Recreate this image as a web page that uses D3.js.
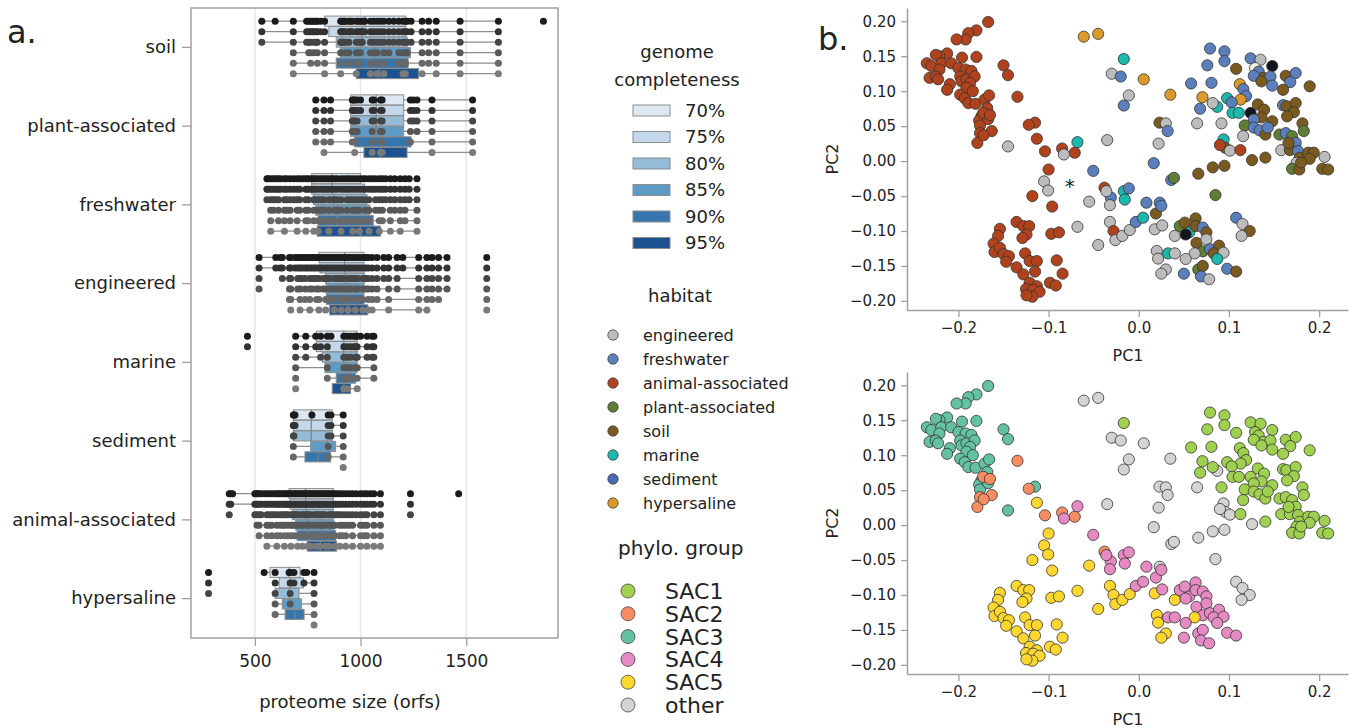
<!DOCTYPE html>
<html>
<head>
<meta charset="utf-8">
<script src="https://cdn.jsdelivr.net/npm/d3@7"></script>
<style>
  body { margin: 0; background: #fff; }
  text { font-family: "DejaVu Sans", sans-serif; fill: #222; }
</style>
</head>
<body>
<svg id="chart" width="1360" height="728"></svg>
<script>
// ---------- panel a data ----------
const habitats = ["soil", "plant-associated", "freshwater", "engineered", "marine", "sediment", "animal-associated", "hypersaline"];
const completeness = ["70%", "75%", "80%", "85%", "90%", "95%"];
const sizeTicks = [500, 1000, 1500];

// box stats per completeness row: [q1, median, q3, whiskerLow, whiskerHigh]
const soilBoxes = [[830,1020,1214,533,1652],[850,1008,1214,533,1652],[885,1008,1220,533,1652],[905,1067,1236,682,1652],[885,1036,1225,682,1652],[980,1091,1275,682,1652]];
const plantBoxes = [[953,1074,1204,788,1530],[953,1074,1204,788,1530],[953,1074,1204,788,1530],[953,1074,1204,788,1530],[972,1091,1239,788,1530],[1016,1094,1220,830,1530]];
const freshwaterBoxes = [[769,866,1000,557,1267],[769,866,1019,557,1267],[777,874,1031,557,1267],[788,890,1044,575,1267],[799,890,1060,575,1267],[795,1000,1094,575,1267]];
const engineeredBoxes = [[803,924,1016,520,1409],[808,924,1016,520,1409],[835,929,1019,623,1409],[838,929,1016,670,1409],[838,929,1016,670,1377],[854,937,1034,714,1314]];
const marineBoxes = [[791,921,984,693,1071],[791,921,984,693,1071],[819,921,984,693,1071],[832,929,984,693,1071],[885,945,976,843,1061],[866,921,953,866,984]];
const sedimentBoxes = [[682,767,866,682,918],[682,767,866,682,918],[682,767,866,682,918],[764,843,882,682,918],[737,800,858,682,918],null];
const animalBoxes = [[662,740,871,379,1094],[667,740,871,379,1094],[678,745,871,500,1094],[693,750,874,510,1094],[700,755,882,520,1094],[748,811,887,557,1094]];
const hypersalineBoxes = [[572,662,714,544,780],[615,670,730,596,780],[596,662,709,596,780],[630,667,720,596,780],[643,690,733,596,780],null];

// genomes: [proteome size, number of completeness rows it passes]
const soilGenomes = [[533,3],[596,1],[682,6],[745,3],[755,4],[764,5],[772,2],[780,4],[790,3],[796,5],[811,2],[830,6],[906,6],[912,3],[918,3],[925,1],[929,4],[945,5],[952,2],[961,2],[980,6],[990,5],[1000,4],[1008,3],[1020,2],[1047,6],[1062,4],[1078,6],[1094,3],[1110,6],[1134,4],[1157,3],[1181,5],[1201,6],[1212,6],[1220,4],[1239,3],[1291,6],[1322,5],[1358,6],[1471,6],[1652,6],[1865,1]];
const plantGenomes = [[788,5],[827,6],[858,5],[961,5],[968,3],[972,6],[984,4],[1000,2],[1055,6],[1063,3],[1094,6],[1102,6],[1236,5],[1250,3],[1267,4],[1338,6],[1530,6]];
const freshwaterGenomes = [[557,3],[563,2],[575,6],[588,4],[600,3],[612,5],[622,2],[640,6],[651,4],[667,5],[684,3],[700,6],[712,4],[728,1],[741,6],[752,5],[766,2],[779,6],[786,3],[800,6],[814,4],[826,5],[838,2],[850,6],[863,3],[877,5],[890,4],[908,6],[922,2],[936,5],[948,3],[963,6],[978,4],[994,6],[1009,3],[1022,5],[1040,6],[1056,2],[1071,4],[1089,6],[1103,5],[1118,3],[1141,6],[1162,4],[1188,6],[1210,5],[1230,3],[1267,6]];
const engineeredGenomes = [[520,4],[599,2],[620,2],[630,3],[664,5],[670,6],[690,2],[703,4],[714,6],[725,3],[738,5],[748,2],[760,6],[771,4],[782,3],[792,5],[803,6],[813,2],[824,4],[835,6],[845,3],[855,5],[866,2],[876,6],[887,4],[898,3],[909,6],[920,5],[931,2],[942,6],[952,4],[963,3],[975,6],[987,5],[999,2],[1011,6],[1024,4],[1036,6],[1055,6],[1078,5],[1110,3],[1133,6],[1173,4],[1200,2],[1275,6],[1314,6],[1338,5],[1369,5],[1409,4],[1597,6]];
const marineGenomes = [[465,2],[693,6],[741,3],[788,2],[811,3],[843,5],[860,1],[921,6],[937,6],[953,5],[970,2],[976,4],[984,6],[1000,1],[1031,3],[1055,3],[1063,5]];
const sedimentGenomes = [[682,5],[685,3],[690,2],[770,1],[847,5],[860,3],[918,6]];
const animalGenomes = [[379,3],[386,2],[395,1],[500,3],[507,2],[510,4],[520,5],[530,3],[545,2],[557,6],[568,4],[580,5],[592,3],[604,6],[612,2],[620,5],[631,4],[640,6],[648,3],[656,5],[664,2],[671,6],[679,4],[687,5],[694,3],[702,6],[710,4],[717,2],[725,6],[733,5],[741,3],[749,6],[757,4],[765,6],[773,2],[781,5],[790,6],[798,3],[806,6],[815,4],[824,5],[833,6],[842,2],[851,6],[860,4],[869,5],[879,6],[890,3],[902,6],[915,5],[930,6],[946,4],[962,6],[980,3],[1000,6],[1016,5],[1030,6],[1047,2],[1063,6],[1094,6],[1236,3],[1464,1]];
const hypersalineGenomes = [[281,3],[544,1],[596,5],[662,1],[667,4],[685,2],[732,2],[745,1],[780,6]];

// ---------- panel b data ----------
const habitatLegend = ["engineered", "freshwater", "animal-associated", "plant-associated", "soil", "marine", "sediment", "hypersaline"];
const habitatCodes = ["E", "F", "A", "P", "S", "M", "D", "H"];
const groupLegend = ["SAC1", "SAC2", "SAC3", "SAC4", "SAC5", "other"];
const pcTicksX = [-0.2, -0.1, 0.0, 0.1, 0.2];
const pcTicksY = [-0.20, -0.15, -0.10, -0.05, 0.00, 0.05, 0.10, 0.15, 0.20];
const starMark = [-0.0765, -0.031];

// [PC1, PC2, habitat code, phylo group (0 = other)]
const pcaPoints = [
  [-0.167,0.199,"A",3],[-0.180,0.187,"A",3],[-0.189,0.183,"A",3],[-0.192,0.174,"A",3],[-0.202,0.174,"A",3],[-0.196,0.148,"A",3],[-0.180,0.149,"A",3],
  [-0.2125,0.154,"A",3],[-0.221,0.150,"A",3],[-0.225,0.152,"A",3],[-0.235,0.140,"A",3],[-0.230,0.136,"A",3],[-0.219,0.140,"A",3],[-0.208,0.140,"A",3],
  [-0.221,0.131,"A",3],[-0.232,0.119,"A",3],[-0.225,0.121,"A",3],[-0.2225,0.117,"A",3],[-0.2095,0.110,"A",3],[-0.2125,0.102,"A",3],[-0.200,0.133,"A",3],
  [-0.192,0.131,"A",3],[-0.1855,0.129,"A",3],[-0.198,0.121,"A",3],[-0.1965,0.114,"A",3],[-0.191,0.117,"A",3],[-0.182,0.121,"A",3],[-0.187,0.112,"A",3],
  [-0.191,0.105,"A",3],[-0.184,0.100,"A",3],[-0.198,0.095,"A",3],[-0.193,0.090,"A",3],[-0.189,0.083,"A",3],[-0.181,0.082,"A",3],[-0.171,0.088,"A",3],
  [-0.166,0.094,"A",3],[-0.168,0.076,"A",3],[-0.1745,0.064,"A",3],[-0.177,0.058,"A",3],[-0.176,0.051,"A",3],[-0.167,0.060,"A",3],[-0.150,0.137,"A",3],
  [-0.145,0.123,"A",3],[-0.115,0.055,"A",3],[-0.145,0.021,"E",3],
  [-0.1725,0.069,"A",2],[-0.165,0.066,"A",2],[-0.176,0.040,"A",2],[-0.163,0.043,"A",2],[-0.179,0.026,"A",2],[-0.172,0.037,"A",2],[-0.1345,0.092,"A",2],
  [-0.122,0.052,"A",2],[-0.104,0.014,"A",2],[-0.085,0.018,"A",2],[-0.071,0.012,"A",2],[-0.038,-0.038,"A",2],
  [-0.068,0.027,"M",4],[-0.083,0.0095,"E",4],[-0.0505,-0.014,"F",4],
  [-0.061,0.178,"H",0],[-0.045,0.182,"H",0],
  [-0.113,0.032,"A",5],[-0.100,-0.012,"A",5],[-0.105,-0.029,"E",5],[-0.1005,-0.042,"E",5],[-0.118,-0.050,"A",5],[-0.096,-0.065,"A",5],[-0.055,-0.058,"E",5],
  [-0.068,-0.094,"E",5],[-0.045,-0.120,"E",5],
  [-0.1355,-0.087,"A",5],[-0.128,-0.093,"A",5],[-0.1215,-0.093,"A",5],[-0.1245,-0.105,"A",5],[-0.129,-0.110,"A",5],[-0.154,-0.097,"A",5],[-0.156,-0.107,"A",5],
  [-0.161,-0.118,"A",5],[-0.160,-0.130,"A",5],[-0.154,-0.124,"A",5],[-0.150,-0.133,"A",5],[-0.144,-0.136,"A",5],[-0.147,-0.144,"A",5],[-0.126,-0.132,"A",5],
  [-0.121,-0.143,"A",5],[-0.113,-0.143,"A",5],[-0.1355,-0.152,"A",5],[-0.128,-0.162,"A",5],[-0.115,-0.158,"A",5],[-0.121,-0.174,"A",5],[-0.113,-0.179,"A",5],
  [-0.125,-0.183,"A",5],[-0.117,-0.184,"A",5],[-0.110,-0.187,"A",5],[-0.118,-0.194,"A",5],[-0.1245,-0.192,"A",5],[-0.097,-0.104,"A",5],[-0.0885,-0.102,"A",5],
  [-0.091,-0.142,"A",5],[-0.0845,-0.161,"A",5],[-0.0985,-0.174,"A",5],[-0.092,-0.178,"A",5],
  [-0.0166,0.146,"M",1],[-0.030,0.125,"E",0],[-0.020,0.121,"F",0],[0.0055,0.117,"H",0],[-0.011,0.094,"E",0],[-0.0166,0.0795,"F",0],[0.035,0.095,"H",0],
  [0.023,0.055,"S",0],[0.030,0.054,"E",0],[0.032,0.043,"F",0],[-0.035,0.030,"E",0],[0.022,0.025,"E",0],[0.0166,-0.003,"F",0],[0.036,-0.027,"F",0],
  [0.039,-0.024,"P",0],[0.066,-0.018,"S",0],[0.082,-0.009,"S",0],[0.095,-0.0067,"S",0],[0.085,-0.0486,"P",0],[0.0647,0.054,"E",0],[0.087,0.0776,"M",0],
  [0.094,0.031,"M",0],[0.096,0.019,"S",0],[0.101,0.015,"E",0],[0.090,0.023,"A",0],[0.1127,0.0157,"A",1],[0.1256,0.0014,"S",0],[0.1404,0.005,"S",1],
  [0.108,-0.081,"F",0],[0.115,-0.090,"E",0],[0.123,-0.100,"S",0],[0.114,-0.107,"E",0],[0.0233,-0.0595,"F",0],
  [-0.031,-0.052,"F",4],[-0.032,-0.063,"E",4],[-0.036,-0.043,"E",4],[-0.0166,-0.043,"M",4],[-0.011,-0.039,"F",4],[-0.0155,-0.055,"M",4],
  [-0.032,-0.087,"E",5],[-0.028,-0.100,"A",5],[-0.026,-0.113,"E",5],[-0.0182,-0.107,"E",5],[-0.010,-0.0986,"E",5],
  [-0.0033,-0.087,"F",4],[0.0048,-0.081,"M",4],[0.0085,-0.0595,"F",4],[0.019,-0.075,"S",4],[0.025,-0.064,"F",4],
  [0.0177,-0.0976,"E",5],[0.026,-0.092,"E",4],[0.020,-0.1286,"E",5],[0.0214,-0.1395,"E",5],[0.030,-0.155,"E",5],[0.025,-0.161,"E",5],[0.040,-0.107,"E",5],
  [0.0325,-0.132,"M",4],[0.040,-0.132,"E",4],[0.0455,-0.093,"P",4],[0.051,-0.088,"S",4],[0.056,-0.102,"M",4],[0.052,-0.105,"K",4],[0.063,-0.082,"S",4],
  [0.063,-0.093,"S",4],[0.071,-0.095,"F",4],[0.075,-0.102,"S",4],[0.064,-0.117,"S",4],[0.075,-0.112,"E",4],[0.071,-0.129,"P",4],[0.079,-0.126,"F",4],
  [0.089,-0.121,"S",4],[0.083,-0.132,"S",4],[0.094,-0.131,"E",4],[0.062,-0.132,"E",5],[0.052,-0.140,"E",4],[0.050,-0.161,"F",4],[0.066,-0.155,"P",4],
  [0.071,-0.150,"S",4],[0.069,-0.165,"F",4],[0.078,-0.169,"E",4],[0.098,-0.154,"F",4],[0.108,-0.158,"S",4],[0.087,-0.140,"M",4],
  [0.079,0.161,"F",1],[0.095,0.157,"F",1],[0.095,0.143,"F",1],[0.076,0.137,"F",1],[0.108,0.132,"S",1],[0.124,0.147,"F",1],[0.135,0.145,"E",1],
  [0.129,0.133,"W",1],[0.133,0.128,"F",1],[0.148,0.136,"K",1],[0.138,0.119,"S",1],[0.1275,0.122,"F",1],[0.146,0.121,"F",1],[0.136,0.114,"S",1],
  [0.148,0.108,"F",1],[0.163,0.122,"S",1],[0.174,0.126,"F",1],[0.168,0.113,"F",1],[0.160,0.102,"S",1],[0.1895,0.107,"S",1],[0.058,0.111,"F",1],
  [0.0706,0.0914,"H",1],[0.0806,0.112,"F",1],[0.112,0.110,"H",1],[0.116,0.103,"F",1],[0.119,0.093,"F",1],[0.113,0.088,"H",1],[0.098,0.090,"M",1],
  [0.103,0.084,"F",1],[0.082,0.083,"E",1],[0.068,0.075,"F",1],[0.104,0.069,"M",1],[0.111,0.069,"M",1],[0.124,0.069,"K",1],[0.132,0.081,"S",1],
  [0.139,0.0735,"S",1],[0.136,0.0625,"S",1],[0.148,0.057,"S",1],[0.1275,0.0595,"F",1],[0.1175,0.051,"P",1],[0.1275,0.048,"F",1],[0.134,0.044,"F",1],
  [0.1404,0.038,"S",1],[0.143,0.048,"F",1],[0.1157,0.0357,"E",1],[0.0917,0.054,"E",1],[0.160,0.080,"F",1],[0.1637,0.0786,"S",1],[0.174,0.083,"S",1],
  [0.172,0.070,"S",1],[0.1645,0.064,"S",1],[0.1815,0.054,"S",1],[0.183,0.043,"P",1],[0.156,0.038,"P",1],[0.163,0.040,"F",1],[0.170,0.0357,"P",1],
  [0.174,0.0262,"F",1],[0.158,0.0157,"E",1],[0.1675,0.0157,"S",1],[0.1766,0.0143,"F",1],[0.166,0.026,"S",1],[0.1785,0.0048,"S",1],[0.188,0.012,"S",1],
  [0.194,0.012,"S",1],[0.1895,0.0033,"S",1],[0.206,0.006,"E",1],[0.175,-0.0024,"E",1],[0.170,-0.011,"P",1],[0.178,-0.012,"S",1],[0.180,-0.002,"S",1],
  [0.2035,-0.011,"S",1],[0.210,-0.012,"S",1]
];

// ---------- styles ----------
const boxColors = ["#dce7f1", "#c3d8ea", "#94bcd9", "#5e9cc7", "#3776ad", "#1c528f"];
const rowPointColors = ["#1c1c1c", "#333333", "#454545", "#575757", "#686868", "#7a7a7a"];
const habitatColors = {E: "#bcbcbc", F: "#5b7fbd", A: "#b0431e", P: "#5f7d34", S: "#7b5a20", M: "#1bb8ab", D: "#4a6bb2", H: "#dc9a2a", K: "#14141f", W: "#f7efe4"};
const groupColors = ["#d3d3d3", "#9fd04f", "#f98d62", "#64c1a1", "#e58ac3", "#fdd630"];

const boxesByHabitat = [soilBoxes, plantBoxes, freshwaterBoxes, engineeredBoxes, marineBoxes, sedimentBoxes, animalBoxes, hypersalineBoxes];
const genomesByHabitat = [soilGenomes, plantGenomes, freshwaterGenomes, engineeredGenomes, marineGenomes, sedimentGenomes, animalGenomes, hypersalineGenomes];

const svg = d3.select("#chart");
svg.append("rect").attr("width", 1360).attr("height", 728).attr("fill", "#fff");

function drawBoxPanel(){
    const left = 191, right = 558, top = 8, bottom = 638;
    const x = d3.scaleLinear().domain([198, 1934]).range([left, right]);
    const y = d3.scaleBand().domain(habitats).range([top, bottom]);
    const bw = y.bandwidth();
    const hueW = bw * 0.8 / completeness.length;
    const boxH = hueW * 0.96;
    const g = svg.append("g");

    // grid
    g.selectAll(".grid").data(sizeTicks).enter().append("line")
        .attr("x1", d => x(d)).attr("x2", d => x(d))
        .attr("y1", top).attr("y2", bottom)
        .attr("stroke", "#e6e6e6").attr("stroke-width", 1.5);

    habitats.forEach((h, hi) => {
        const boxes = boxesByHabitat[hi];
        const genomes = genomesByHabitat[hi];
        completeness.forEach((c, k) => {
            const cy = y(h) + bw * 0.1 + (k + 0.5) * hueW;
            const s = boxes[k];
            const rg = g.append("g");
            if (s) {
                const [q1, med, q3, lo, hi2] = s;
                rg.append("line").attr("x1", x(lo)).attr("x2", x(q1)).attr("y1", cy).attr("y2", cy)
                    .attr("stroke", "#8c8c8c").attr("stroke-width", 1.3);
                rg.append("line").attr("x1", x(q3)).attr("x2", x(hi2)).attr("y1", cy).attr("y2", cy)
                    .attr("stroke", "#8c8c8c").attr("stroke-width", 1.3);
                rg.append("rect").attr("x", x(q1)).attr("y", cy - boxH / 2)
                    .attr("width", x(q3) - x(q1)).attr("height", boxH)
                    .attr("fill", boxColors[k]).attr("stroke", "#8c8c8c").attr("stroke-width", 1);
                rg.append("line").attr("x1", x(med)).attr("x2", x(med))
                    .attr("y1", cy - boxH / 2).attr("y2", cy + boxH / 2)
                    .attr("stroke", "#808080").attr("stroke-width", 1.2);
            }
            rg.selectAll("circle").data(genomes.filter(d => d[1] > k)).enter().append("circle")
                .attr("cx", d => x(d[0])).attr("cy", cy).attr("r", 3.5)
                .attr("fill", rowPointColors[k]);
        });
    });

    // frame
    g.append("rect").attr("x", left).attr("y", top).attr("width", right - left).attr("height", bottom - top)
        .attr("fill", "none").attr("stroke", "#a0a0a0").attr("stroke-width", 1.5);

    const yAxis = g.append("g").attr("transform", `translate(${left},0)`)
        .call(d3.axisLeft(y).tickSize(9).tickPadding(6).tickSizeOuter(0));
    yAxis.select(".domain").remove();
    yAxis.selectAll("line").attr("stroke", "#a0a0a0").attr("stroke-width", 1.3);
    yAxis.selectAll("text").attr("font-size", 18).attr("fill", "#222").attr("font-family", "DejaVu Sans");

    const xAxis = g.append("g").attr("transform", `translate(0,${bottom})`)
        .call(d3.axisBottom(x).tickValues(sizeTicks).tickFormat(d3.format("d")).tickSize(8).tickPadding(9).tickSizeOuter(0));
    xAxis.select(".domain").remove();
    xAxis.selectAll("line").attr("stroke", "#a0a0a0").attr("stroke-width", 1.3);
    xAxis.selectAll("text").attr("font-size", 17).attr("fill", "#222").attr("font-family", "DejaVu Sans");

    g.append("text").attr("x", 350).attr("y", 708).attr("text-anchor", "middle")
        .attr("font-size", 18).text("proteome size (orfs)");
    svg.append("text").attr("x", 7).attr("y", 43).attr("font-size", 32).text("a.");
}

function drawScatter(offsetY, colorOf, withStar){
    const left = 907, right = 1348, top = 8 + offsetY, bottom = 310 + offsetY;
    const x = d3.scaleLinear().domain([-0.257, 0.232]).range([left, right]);
    const y = d3.scaleLinear().domain([-0.213, 0.219]).range([bottom, top]);
    const g = svg.append("g");

    const yAxis = g.append("g").attr("transform", `translate(${left},0)`)
        .call(d3.axisLeft(y).tickValues(pcTicksY).tickFormat(d3.format(".2f")).tickSize(6).tickPadding(5).tickSizeOuter(0));
    const xAxis = g.append("g").attr("transform", `translate(0,${bottom})`)
        .call(d3.axisBottom(x).tickValues(pcTicksX).tickFormat(d3.format(".1f")).tickSize(7).tickPadding(5).tickSizeOuter(0));
    [yAxis, xAxis].forEach(a => {
        a.select(".domain").attr("stroke", "#a0a0a0").attr("stroke-width", 1.5);
        a.selectAll(".tick line").attr("stroke", "#a0a0a0").attr("stroke-width", 1.3);
        a.selectAll("text").attr("font-size", 15).attr("fill", "#222").attr("font-family", "DejaVu Sans");
    });

    g.selectAll(".pt").data(pcaPoints).enter().append("circle")
        .attr("cx", d => x(d[0])).attr("cy", d => y(d[1])).attr("r", 5.6)
        .attr("fill", colorOf).attr("stroke", "#333").attr("stroke-width", 0.8);

    if (withStar) {
        g.append("text").attr("x", x(starMark[0])).attr("y", y(starMark[1]) + 10)
            .attr("text-anchor", "middle").attr("font-size", 20).text("*");
    }

    g.append("text").attr("transform", `translate(838,${(top + bottom) / 2}) rotate(-90)`)
        .attr("text-anchor", "middle").attr("font-size", 16).text("PC2");
    g.append("text").attr("x", 1128).attr("y", bottom + 51).attr("text-anchor", "middle")
        .attr("font-size", 16).text("PC1");
}

function drawLegends(){
    const g = svg.append("g");
    g.append("text").attr("x", 677).attr("y", 58).attr("text-anchor", "middle").attr("font-size", 18).text("genome");
    g.append("text").attr("x", 677).attr("y", 86).attr("text-anchor", "middle").attr("font-size", 18).text("completeness");
    completeness.forEach((c, k) => {
        const cy = 110.5 + k * 26.5;
        g.append("rect").attr("x", 633).attr("y", cy - 5.5).attr("width", 37).attr("height", 11)
            .attr("fill", boxColors[k]).attr("stroke", "#8c8c8c").attr("stroke-width", 1);
        g.append("text").attr("x", 685).attr("y", cy).attr("dy", "0.36em").attr("font-size", 18).text(c);
    });

    g.append("text").attr("x", 680).attr("y", 302).attr("text-anchor", "middle").attr("font-size", 18).text("habitat");
    habitatLegend.forEach((h, i) => {
        const cy = 335 + i * 24;
        g.append("circle").attr("cx", 613).attr("cy", cy).attr("r", 5.2)
            .attr("fill", habitatColors[habitatCodes[i]]).attr("stroke", "#444").attr("stroke-width", 0.8);
        g.append("text").attr("x", 643).attr("y", cy).attr("dy", "0.36em").attr("font-size", 16).text(h);
    });

    g.append("text").attr("x", 618).attr("y", 555).attr("font-size", 20).text("phylo. group");
    groupLegend.forEach((s, i) => {
        const cy = 591 + i * 22.8;
        const gi = i === 5 ? 0 : i + 1;
        g.append("circle").attr("cx", 628).attr("cy", cy).attr("r", 7)
            .attr("fill", groupColors[gi]).attr("stroke", "#444").attr("stroke-width", 0.8);
        g.append("text").attr("x", 665).attr("y", cy).attr("dy", "0.36em").attr("font-size", 22).text(s);
    });
    svg.append("text").attr("x", 818).attr("y", 50).attr("font-size", 32).text("b.");
}

drawBoxPanel();
drawScatter(0, d => habitatColors[d[2]], true);
drawScatter(364, d => groupColors[d[3]], false);
drawLegends();
</script>
</body>
</html>
